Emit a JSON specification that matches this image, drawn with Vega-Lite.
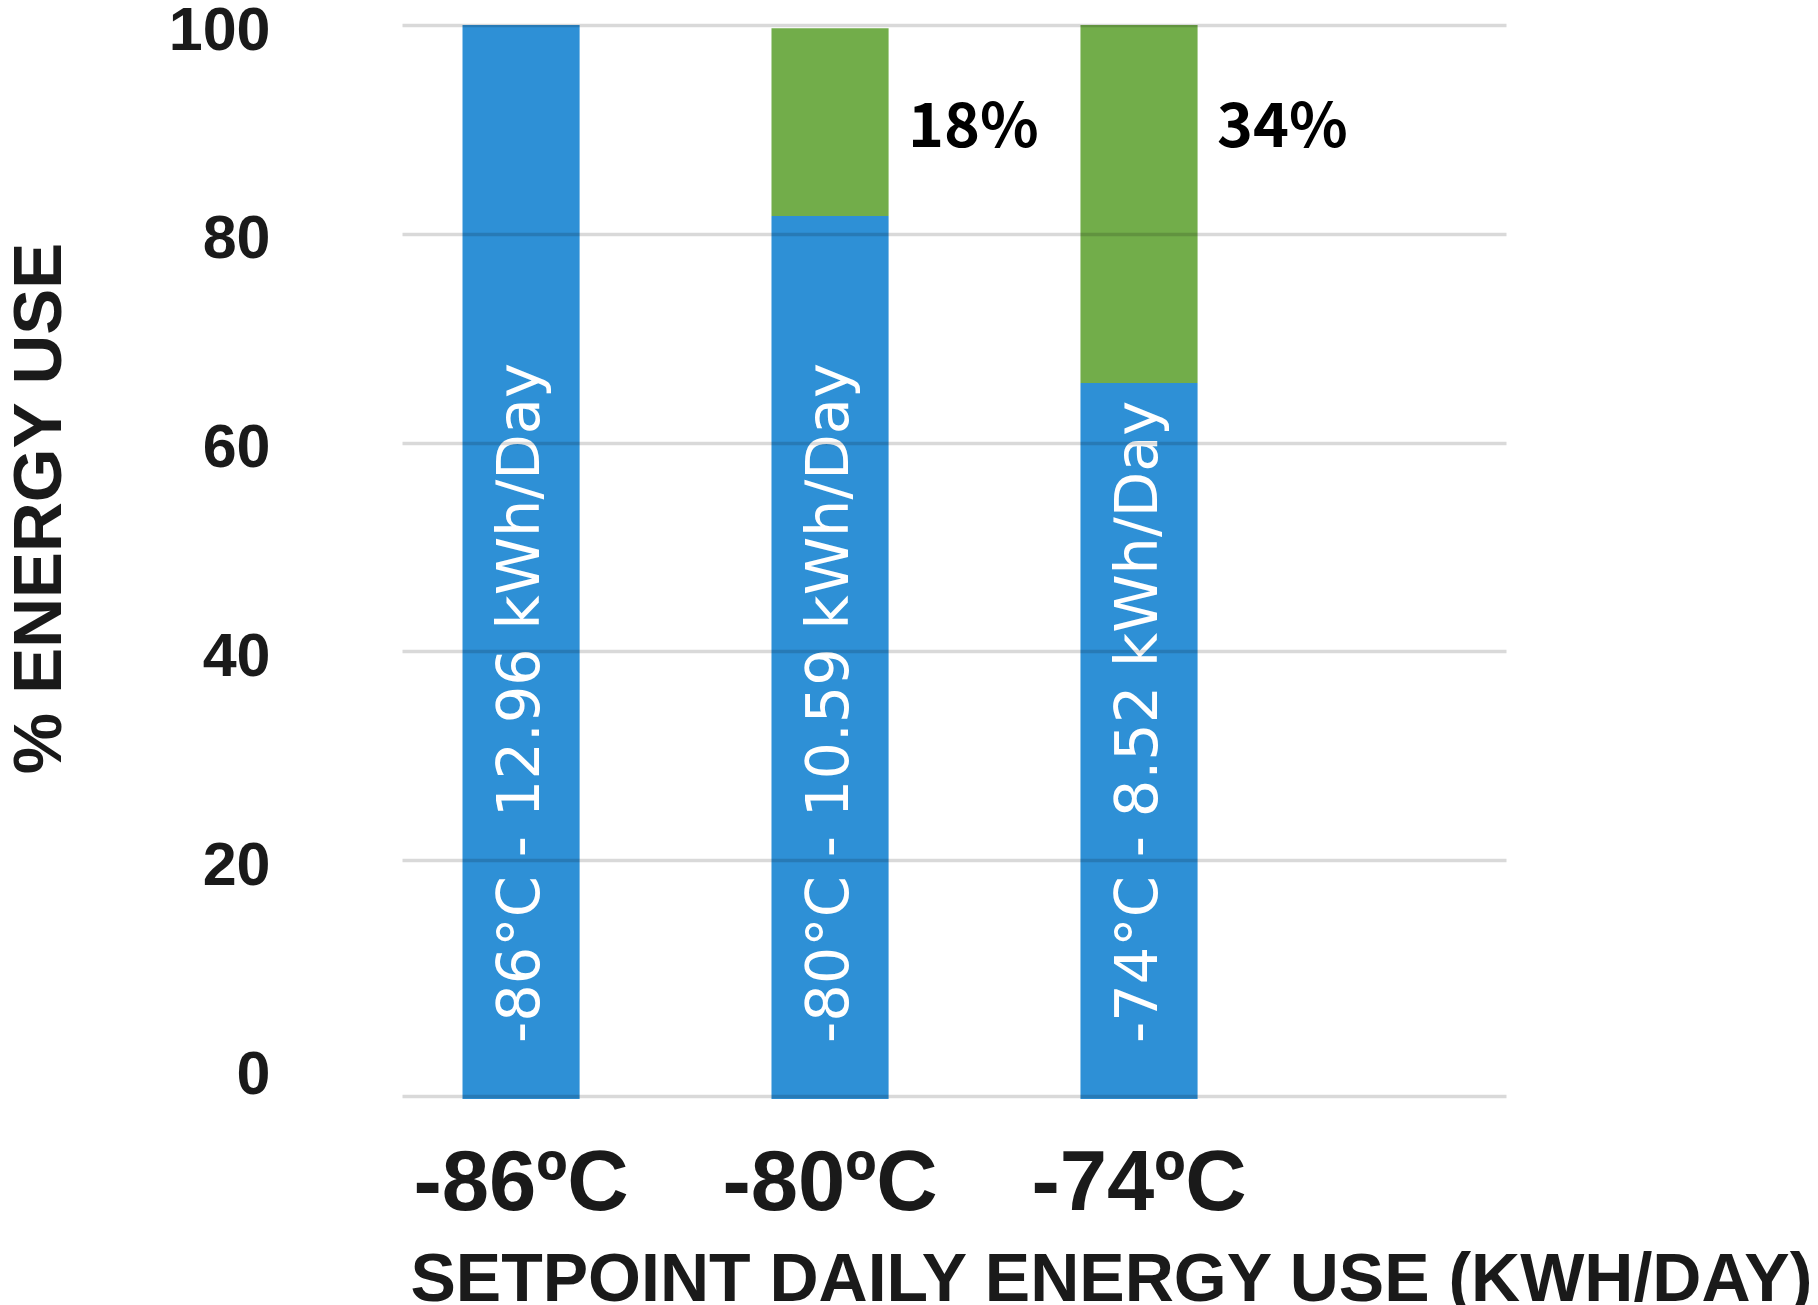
{
  "$schema": "https://vega.github.io/schema/vega-lite/v6.json",
  "autosize": {"type": "none"},
  "padding": {"left": 402, "top": 25, "right": 312, "bottom": 236},
  "width": 1104,
  "height": 1044,
  "background": "white",
  "config": {"view": {"stroke": null}},
  "data": {
    "values": [
      {"setpoint": "-86ºC", "segment": "blue", "start": 0, "end": 100, "note": "-86°C - 12.96 kWh/Day"},
      {"setpoint": "-80ºC", "segment": "blue", "start": 0, "end": 81.7, "note": "-80°C - 10.59 kWh/Day"},
      {"setpoint": "-74ºC", "segment": "blue", "start": 0, "end": 65.7, "note": "-74°C - 8.52 kWh/Day"},
      {"setpoint": "-80ºC", "segment": "green", "start": 81.7, "end": 99.7, "note": "18%"},
      {"setpoint": "-74ºC", "segment": "green", "start": 65.7, "end": 100, "note": "34%"}
    ]
  },
  "encoding": {
    "x": {
      "field": "setpoint",
      "type": "nominal",
      "sort": ["-86ºC", "-80ºC", "-74ºC"],
      "scale": {"paddingInner": 0.621, "paddingOuter": 0.597, "align": 0.164},
      "axis": {
        "title": "SETPOINT DAILY ENERGY USE (KWH/DAY)",
        "labelAngle": 0,
        "labelLimit": 1000,
        "ticks": false,
        "grid": false,
        "domain": true,
        "domainColor": "#000000",
        "domainOpacity": 0.15,
        "domainWidth": 3.5,
        "offset": 27,
        "labelPadding": 46,
        "labelFont": "Liberation Sans",
        "labelFontSize": 85,
        "labelFontWeight": "bold",
        "labelColor": "#1a1a1a",
        "titleFont": "Liberation Sans",
        "titleFontSize": 68,
        "titleFontWeight": "bold",
        "titleColor": "#1a1a1a",
        "titleAnchor": "start",
        "titleAlign": "left",
        "titleX": 8,
        "titlePadding": 20,
        "titleLimit": 3000,
        "zindex": 1
      }
    }
  },
  "layer": [
    {
      "transform": [{"filter": "datum.segment === 'blue'"}],
      "mark": {"type": "bar", "y2Offset": 30, "color": "#2e90d6"},
      "encoding": {
        "y": {
          "field": "end",
          "type": "quantitative",
          "scale": {"domain": [0, 100], "nice": false},
          "axis": {
            "values": [0, 20, 40, 60, 80, 100],
            "title": "% ENERGY USE",
            "titleAngle": 270,
            "titleX": -363,
            "titleY": 483,
            "titleAlign": "center",
            "titleBaseline": "middle",
            "titleFont": "Liberation Sans",
            "titleFontSize": 69,
            "titleFontWeight": "bold",
            "titleColor": "#1a1a1a",
            "titleLimit": 3000,
            "domain": false,
            "ticks": false,
            "labelPadding": 132,
            "labelOffset": 6,
            "labelFont": "Liberation Sans",
            "labelFontSize": 61,
            "labelFontWeight": "bold",
            "labelColor": "#1a1a1a",
            "grid": true,
            "gridColor": "#000000",
            "gridOpacity": {"condition": {"test": "datum.value === 0", "value": 0}, "value": 0.15},
            "gridWidth": 3.5,
            "zindex": 1
          }
        },
        "y2": {"field": "start"}
      }
    },
    {
      "transform": [{"filter": "datum.segment === 'green'"}],
      "mark": {"type": "bar", "color": "#72ad4a"},
      "encoding": {
        "y": {"field": "end", "type": "quantitative"},
        "y2": {"field": "start"}
      }
    },
    {
      "transform": [{"filter": "datum.segment === 'blue'"}],
      "mark": {
        "type": "text",
        "angle": 270,
        "align": "left",
        "baseline": "middle",
        "dx": 26,
        "font": "DejaVu Sans",
        "fontSize": 59,
        "color": "white"
      },
      "encoding": {
        "y": {"field": "start", "type": "quantitative"},
        "text": {"field": "note"}
      }
    },
    {
      "transform": [{"filter": "datum.segment === 'green'"}],
      "mark": {
        "type": "text",
        "align": "left",
        "baseline": "middle",
        "dx": 78,
        "font": "Noto Sans CJK JP",
        "fontWeight": "bold",
        "fontSize": 61,
        "color": "#000000"
      },
      "encoding": {
        "y": {"datum": 90, "type": "quantitative"},
        "text": {"field": "note"}
      }
    }
  ]
}
